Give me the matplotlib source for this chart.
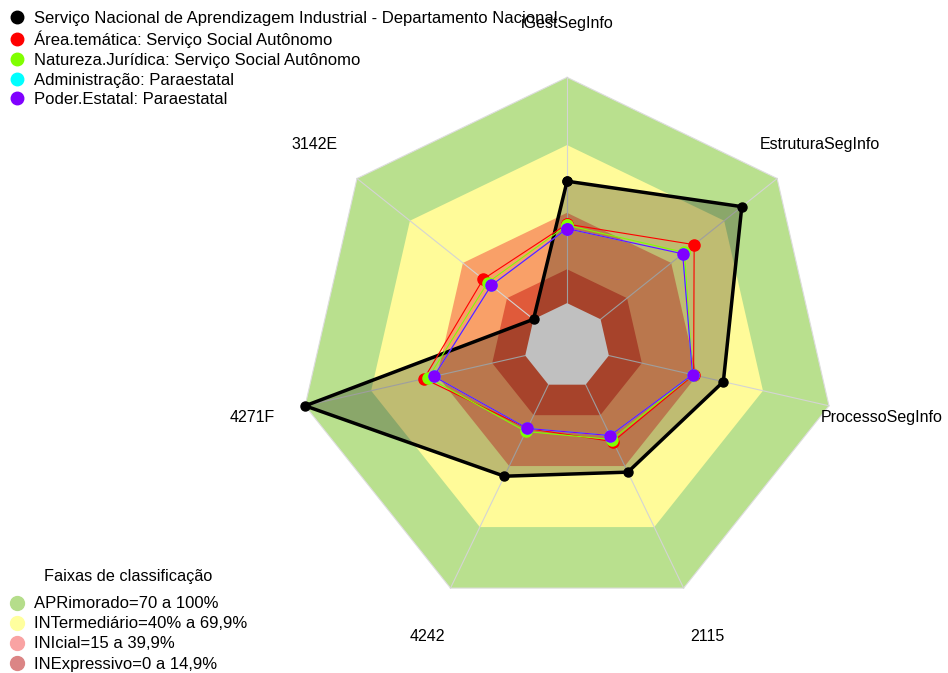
import numpy as np
import matplotlib
matplotlib.use('Agg')
import matplotlib.pyplot as plt
from matplotlib.lines import Line2D

plt.rcParams['font.family'] = ['Liberation Sans', 'DejaVu Sans']

# eixos do radar (sentido horario a partir do topo)
axis_labels = ['iGestSegInfo', 'EstruturaSegInfo', 'ProcessoSegInfo', '2115', '4242', '4271F', '3142E']

senai_dn = [54, 80, 52, 43, 45, 100, 0]
area_tematica = [35, 53, 38.5, 28, 21.5, 46, 28.5]
natureza_juridica = [34.5, 47.5, 38, 27, 23, 44, 26]
administracao = [33, 46.5, 38, 25, 21.5, 41.5, 24]
poder_estatal = [33, 46.5, 38, 25, 21.5, 41.5, 24]

series_names = ['Serviço Nacional de Aprendizagem Industrial - Departamento Nacional',
                'Área.temática: Serviço Social Autônomo',
                'Natureza.Jurídica: Serviço Social Autônomo',
                'Administração: Paraestatal',
                'Poder.Estatal: Paraestatal']
series_colors = ['black', '#FF0000', '#80FF00', '#00FFFF', '#8000FF']

faixas = ['APRimorado=70 a 100%', 'INTermediário=40% a 69,9%',
          'INIcial=15 a 39,9%', 'INExpressivo=0 a 14,9%']
faixa_limits = [100, 70, 40, 15]
faixa_colors = ['#B9E08E', '#FFFB99', '#F9A068', '#E05A3A']
faixa_legend_colors = ['#B5DD8B', '#FFFF9E', '#F9A3A3', '#DB8585']

n = len(axis_labels)
theta = np.arange(n) * 2 * np.pi / n
closed = np.append(theta, theta[0])

def close(v):
    return list(v) + [v[0]]

fig = plt.figure(figsize=(9.48, 6.73), dpi=100)
ax = fig.add_axes([0.3147, 0.0866, 0.5669, 0.7985], projection='polar')
ax.set_theta_offset(np.pi / 2)
ax.set_theta_direction(-1)
ax.set_ylim(0, 100)
ax.set_rorigin(-19)
ax.set_xticks([])
ax.set_yticks([])
ax.grid(False)
ax.patch.set_visible(False)
for s in ax.spines.values():
    s.set_visible(False)
    s.set_color('none')
    s.set_linewidth(0)

# faixas de classificacao
for lim, col in zip(faixa_limits, faixa_colors):
    ax.fill(closed, [lim] * (n + 1), color=col, lw=0, zorder=1, clip_on=False)
ax.plot(closed, [100] * (n + 1), color='#DDDDDD', lw=0.8, zorder=1.5, clip_on=False)
for t in theta:
    ax.plot([t, t], [0, 100], color='#D4D4D4', lw=0.8, zorder=2, clip_on=False)

# serie principal
ax.fill(closed, close(senai_dn), color='black', alpha=0.25, lw=0, zorder=3, clip_on=False)
ax.fill(closed, [0] * (n + 1), color='#C0C0C0', lw=0, zorder=4, clip_on=False)
ax.plot(closed, close(senai_dn), color='black', lw=2.5, marker='o', ms=6.5,
        zorder=5, clip_on=False)

others = [area_tematica, natureza_juridica, administracao, poder_estatal]
for i, (vals, col) in enumerate(zip(others, series_colors[1:])):
    ax.plot(closed, close(vals), color=col, lw=0.8, marker='o', ms=8,
            zorder=6 + i, clip_on=False)

for t, lab in zip(theta, axis_labels):
    ax.text(t, 124, lab, ha='center', va='center', fontsize=11.5)

h1 = [Line2D([], [], ls='none', marker='o', ms=9, color=c) for c in series_colors]
fig.legend(h1, series_names, loc='upper left', bbox_to_anchor=(0.0092, 1 - 11 / 673),
           frameon=False, fontsize=12, handlelength=1, handletextpad=0.5,
           labelspacing=0.28, borderpad=0, borderaxespad=0)

h2 = [Line2D([], [], ls='none', marker='o', ms=10, color=c) for c in faixa_legend_colors]
fig.legend(h2, faixas, loc='lower left', bbox_to_anchor=(0.0092, 1.5 / 673), frameon=False,
           fontsize=12, handlelength=1, handletextpad=0.5, labelspacing=0.3,
           borderpad=0, borderaxespad=0)
fig.text(128 / 948, 1 - 577 / 673, 'Faixas de classificação', ha='center', va='center',
         fontsize=11.7)

fig.savefig('out.png', dpi=100)
